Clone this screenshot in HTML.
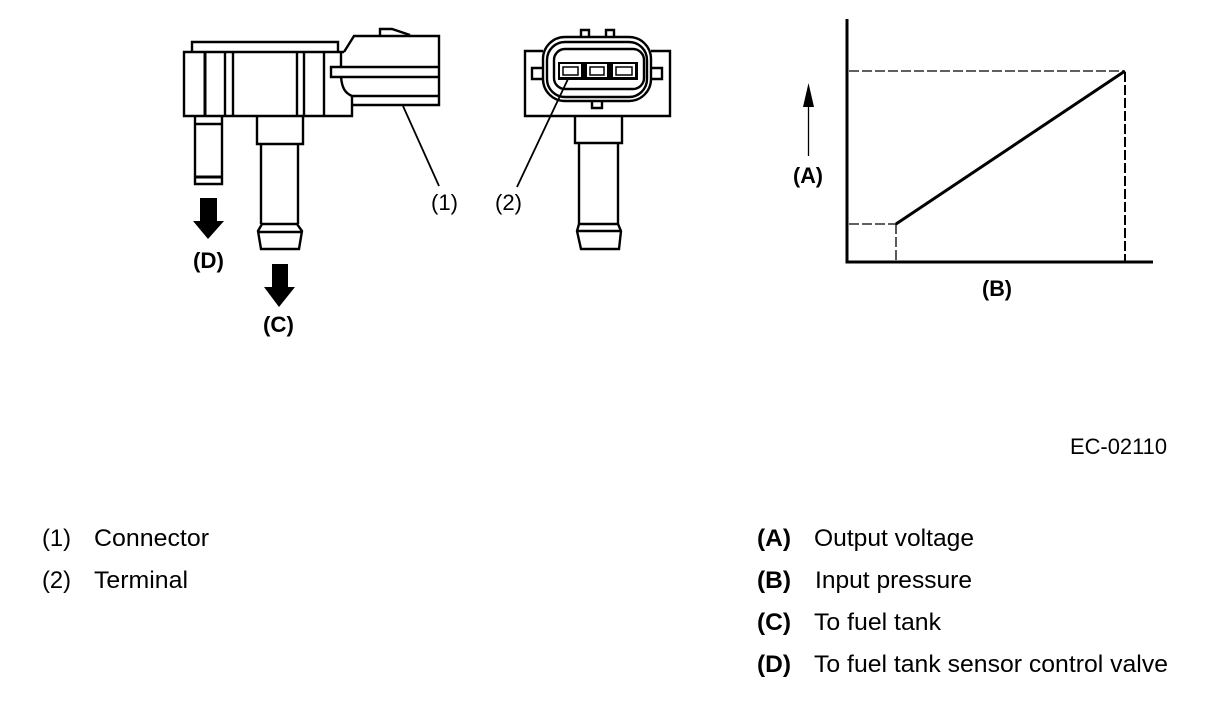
<!DOCTYPE html>
<html><head><meta charset="utf-8">
<style>
html,body{margin:0;padding:0;background:#fff;width:1216px;height:706px;overflow:hidden}
svg{display:block}
text{font-family:"Liberation Sans",sans-serif;fill:#000}
.t{font-size:24.5px}
.b{font-size:24.5px;font-weight:bold}
.l{font-size:22px}
.lb{font-size:22px;font-weight:bold}
</style></head><body>
<svg width="1216" height="706" viewBox="0 0 1216 706" xmlns="http://www.w3.org/2000/svg">
<g fill="none" stroke="#000" stroke-width="2.400">
  <!-- side view -->
  <path d="M192 52V42H338V52"/>
  <path d="M344 52H184V116H352V96"/>
  <path d="M205 52V116" stroke-width="3"/>
  <path d="M225 52V116M233 52V116M297 52V116M304 52V116M324 52V116" />
  <path d="M341 52V67"/>
  <path d="M344 52L349 44L354 36H439V105H352" stroke-width="2.400"/>
  <path d="M380 35V29H392L410 35"/>
  <path d="M439 67H331V77H439"/>
  <path d="M341 77C342 88 345 93 352 96H439"/>
  <path d="M403 106L439 186" stroke-width="1.800"/>
  <path d="M195 116V184H222V116M195 124H222"/>
  <path d="M195 177H222" stroke-width="3"/>
  <path d="M257 116V144H303V116"/>
  <path d="M261 144V224M298 144V224" />
  <path d="M262 224H297L302 231L299 249H261L258 231Z"/>
  <path d="M258 232H302"/>
  <!-- front view -->
  <path d="M543 51H525V116H670V51H651"/>
  <rect x="543" y="37" width="108" height="64" rx="22" fill="#fff"/>
  <rect x="547" y="42" width="100" height="55" rx="18"/>
  <rect x="554" y="49" width="90" height="40" rx="11"/>
  <rect x="558" y="62" width="80" height="18" fill="#000" stroke="none"/>
  <g fill="#fff" stroke="none">
    <rect x="560" y="64" width="21" height="13"/>
    <rect x="587" y="64" width="20" height="13"/>
    <rect x="613" y="64" width="22" height="13"/>
  </g>
  <g stroke-width="1.500">
    <rect x="563" y="67" width="15" height="8"/>
    <rect x="590" y="67" width="14" height="8"/>
    <rect x="616" y="67" width="16" height="8"/>
  </g>
  <path d="M581 37V30H589V37M606 37V30H614V37"/>
  <path d="M543 68H532V79H543M651 68H662V79H651"/>
  <path d="M592 101V108H602V101"/>
  <path d="M575 116V143H622V116"/>
  <path d="M579 143V224M618 143V224"/>
  <path d="M579 224H618L621 231L619 249H581L577 231Z"/>
  <path d="M577 231H621"/>
  <path d="M568 79L517 187" stroke-width="1.800"/>
  <!-- graph -->
  <path d="M847 19V262H1153" stroke-width="3"/>
  <path d="M849 71H1124M849 224H896M896 224V261" stroke-width="1.300" stroke-dasharray="10 3"/>
  <path d="M1125 72V261" stroke-width="2" stroke-dasharray="10 3"/>
  <path d="M896 224L1125 71" stroke-width="3"/>
  <path d="M808.500 107V156" stroke-width="1.300"/>
</g>
<!-- arrows -->
<path d="M200 198H217V221H224L208 239L193 221H200Z"/>
<path d="M272 264H288V287H295L279 307L264 287H272Z"/>
<path d="M808.500 83L803 107H814Z"/>
<!-- labels -->
<text class="l" x="431" y="210" textLength="27" lengthAdjust="spacingAndGlyphs">(1)</text>
<text class="l" x="495" y="210" textLength="27" lengthAdjust="spacingAndGlyphs">(2)</text>
<text class="lb" x="193" y="268" textLength="31" lengthAdjust="spacingAndGlyphs">(D)</text>
<text class="lb" x="263" y="332" textLength="31" lengthAdjust="spacingAndGlyphs">(C)</text>
<text class="lb" x="793" y="183" textLength="30" lengthAdjust="spacingAndGlyphs">(A)</text>
<text class="lb" x="982" y="296" textLength="30" lengthAdjust="spacingAndGlyphs">(B)</text>
<text class="l" x="1070" y="454" textLength="97" lengthAdjust="spacingAndGlyphs">EC-02110</text>
<text class="t" x="42" y="546" textLength="29" lengthAdjust="spacingAndGlyphs">(1)</text>
<text class="t" x="94" y="546" textLength="115" lengthAdjust="spacingAndGlyphs">Connector</text>
<text class="t" x="42" y="588" textLength="29" lengthAdjust="spacingAndGlyphs">(2)</text>
<text class="t" x="94" y="588" textLength="94" lengthAdjust="spacingAndGlyphs">Terminal</text>
<text class="b" x="757" y="546" textLength="34" lengthAdjust="spacingAndGlyphs">(A)</text>
<text class="t" x="814" y="546" textLength="160" lengthAdjust="spacingAndGlyphs">Output voltage</text>
<text class="b" x="757" y="588" textLength="34" lengthAdjust="spacingAndGlyphs">(B)</text>
<text class="t" x="815" y="588" textLength="157" lengthAdjust="spacingAndGlyphs">Input pressure</text>
<text class="b" x="757" y="630" textLength="34" lengthAdjust="spacingAndGlyphs">(C)</text>
<text class="t" x="814" y="630" textLength="127" lengthAdjust="spacingAndGlyphs">To fuel tank</text>
<text class="b" x="757" y="672" textLength="34" lengthAdjust="spacingAndGlyphs">(D)</text>
<text class="t" x="814" y="672" textLength="354" lengthAdjust="spacingAndGlyphs">To fuel tank sensor control valve</text>
</svg>
</body></html>
